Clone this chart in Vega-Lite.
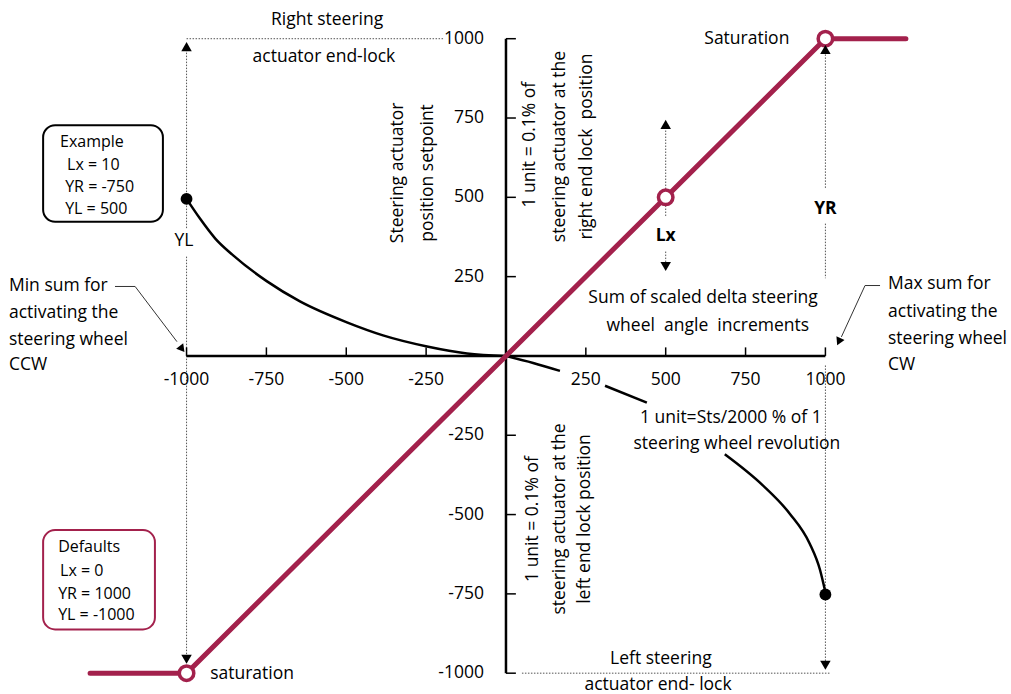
{
  "$schema": "https://vega.github.io/schema/vega-lite/v6.json",
  "width": 1011,
  "height": 694,
  "padding": 0,
  "autosize": {"type": "fit", "contains": "padding"},
  "background": "white",
  "view": {"stroke": null},
  "config": {"text": {"font": "Open Sans", "fontSize": 17.5, "color": "black", "baseline": "middle"}},
  "datasets": {
    "red": [{"x": -1302, "y": -1000}, {"x": -1000, "y": -1000}, {"x": 1000, "y": 1000}, {"x": 1252, "y": 1000}],
    "curve": [
      {"x": -1000, "y": 495, "seg": "L"}, {"x": -958, "y": 433, "seg": "L"}, {"x": -910, "y": 370, "seg": "L"}, {"x": -854, "y": 317, "seg": "L"},
      {"x": -748, "y": 235, "seg": "L"}, {"x": -645, "y": 172, "seg": "L"}, {"x": -498, "y": 106, "seg": "L"}, {"x": -385, "y": 65, "seg": "L"},
      {"x": -247, "y": 30, "seg": "L"}, {"x": -122, "y": 8, "seg": "L"}, {"x": 0, "y": 0, "seg": "L"},
      {"x": 0, "y": 0, "seg": "R1"}, {"x": 85, "y": -22, "seg": "R1"}, {"x": 169, "y": -47, "seg": "R1"},
      {"x": 310, "y": -94, "seg": "R2"}, {"x": 441, "y": -147, "seg": "R2"},
      {"x": 685, "y": -310, "seg": "R3"}, {"x": 804, "y": -408, "seg": "R3"}, {"x": 889, "y": -498, "seg": "R3"}, {"x": 951, "y": -592, "seg": "R3"}, {"x": 983, "y": -674, "seg": "R3"}, {"x": 1000, "y": -745, "seg": "R3"}
    ],
    "dotted": [
      {"x": -1000, "y": 975, "x2": -1000, "y2": 400}, {"x": -1000, "y": 313, "x2": -1000, "y2": -960},
      {"x": -1000, "y": 1000, "x2": -197, "y2": 1000},
      {"x": 500, "y": 720, "x2": 500, "y2": 439}, {"x": 500, "y": 329, "x2": 500, "y2": 290},
      {"x": 1000, "y": 960, "x2": 1000, "y2": 527}, {"x": 1000, "y": 417, "x2": 1000, "y2": 245}, {"x": 1000, "y": -30, "x2": 1000, "y2": -975},
      {"x": 50, "y": -1000, "x2": 1015, "y2": -1000}
    ],
    "leaders": [
      {"x": -1224, "y": 219, "x2": -1161, "y2": 219}, {"x": -1161, "y": 219, "x2": -1030, "y2": 45},
      {"x": 1171, "y": 222, "x2": 1124, "y2": 222}, {"x": 1124, "y": 222, "x2": 1050, "y2": 60}
    ],
    "axes": [{"x": -1000, "y": 0, "x2": 1000, "y2": 0}, {"x": 0, "y": -1000, "x2": 0, "y2": 1000}],
    "xticks": [{"x": -1000, "y": 0}, {"x": -750, "y": 0}, {"x": -500, "y": 0}, {"x": -250, "y": 0}, {"x": 250, "y": 0}, {"x": 500, "y": 0}, {"x": 750, "y": 0}, {"x": 1000, "y": 0}],
    "yticks": [{"x": 0, "y": -1000}, {"x": 0, "y": -750}, {"x": 0, "y": -500}, {"x": 0, "y": -250}, {"x": 0, "y": 250}, {"x": 0, "y": 500}, {"x": 0, "y": 750}, {"x": 0, "y": 1000}],
    "xlabels": [{"x": -1000, "y": -75, "t": "-1000"}, {"x": -750, "y": -75, "t": "-750"}, {"x": -500, "y": -75, "t": "-500"}, {"x": -250, "y": -75, "t": "-250"}, {"x": 250, "y": -75, "t": "250"}, {"x": 500, "y": -75, "t": "500"}, {"x": 750, "y": -75, "t": "750"}, {"x": 1000, "y": -75, "t": "1000"}],
    "ylabels": [{"x": -69, "y": -1000, "t": "-1000"}, {"x": -69, "y": -750, "t": "-750"}, {"x": -69, "y": -500, "t": "-500"}, {"x": -69, "y": -250, "t": "-250"}, {"x": -69, "y": 250, "t": "250"}, {"x": -69, "y": 500, "t": "500"}, {"x": -69, "y": 750, "t": "750"}, {"x": -69, "y": 1000, "t": "1000"}],
    "ctext": [
      {"x": -560, "y": 1058, "t": "Right steering"}, {"x": -570, "y": 942, "t": "actuator end-lock"},
      {"x": 754, "y": 998, "t": "Saturation"},
      {"x": 617, "y": 183, "t": "Sum of scaled delta steering"}, {"x": 632, "y": 95, "t": "wheel\u00a0 angle\u00a0 increments"},
      {"x": 704, "y": -196, "t": "1 unit=Sts/2000 % of 1"}, {"x": 723, "y": -278, "t": "steering wheel revolution"},
      {"x": -1008, "y": 362, "t": "YL"},
      {"x": 485, "y": -955, "t": "Left steering"}, {"x": 476, "y": -1036, "t": "actuator end- lock"}
    ],
    "ltext": [
      {"x": -926, "y": -1002, "t": "saturation"},
      {"x": -1556, "y": 220, "t": "Min sum for"}, {"x": -1556, "y": 136, "t": "activating the"}, {"x": -1556, "y": 51, "t": "steering wheel"}, {"x": -1556, "y": -30, "t": "CCW"},
      {"x": 1196, "y": 227, "t": "Max sum for"}, {"x": 1196, "y": 139, "t": "activating the"}, {"x": 1196, "y": 54, "t": "steering wheel"}, {"x": 1196, "y": -27, "t": "CW"}
    ],
    "boxtext": [
      {"x": -1396, "y": 674, "t": "Example"}, {"x": -1374, "y": 601, "t": "Lx = 10"}, {"x": -1380, "y": 533, "t": "YR = -750"}, {"x": -1380, "y": 462, "t": "YL = 500"},
      {"x": -1402, "y": -602, "t": "Defaults"}, {"x": -1396, "y": -677, "t": "Lx = 0"}, {"x": -1402, "y": -750, "t": "YR = 1000"}, {"x": -1402, "y": -817, "t": "YL = -1000"}
    ],
    "btext": [{"x": 500, "y": 377, "t": "Lx"}, {"x": 1000, "y": 462, "t": "YR"}],
    "rtext": [
      {"x": -338, "y": 577, "t": "Steering actuator"}, {"x": -244, "y": 577, "t": "position setpoint"},
      {"x": 75, "y": 666, "t": "1 unit = 0.1% of"}, {"x": 169, "y": 660, "t": "steering actuator at the"}, {"x": 254, "y": 660, "t": "right end lock\u00a0 position"},
      {"x": 85, "y": -514, "t": "1 unit = 0.1% of"}, {"x": 169, "y": -514, "t": "steering actuator at the"}, {"x": 247, "y": -514, "t": "left end lock position"}
    ],
    "boxEx": [{"x": -1449, "x2": -1074, "y": 727, "y2": 423}],
    "boxDef": [{"x": -1449, "x2": -1099, "y": -549, "y2": -862}],
    "hollow": [{"x": -1000, "y": -1000}, {"x": 500, "y": 500}, {"x": 1000, "y": 1000}],
    "dots": [{"x": -1000, "y": 495}, {"x": 1000, "y": -752}],
    "triUp": [{"x": -1000, "y": 975}, {"x": 500, "y": 730}, {"x": 1000, "y": 966}],
    "triDown": [{"x": -1000, "y": -956}, {"x": 500, "y": 282}, {"x": 1000, "y": -975}],
    "triL": [{"x": -1014, "y": 22}],
    "triR": [{"x": 1042, "y": 45}]
  },
  "encoding": {
    "x": {"field": "x", "type": "quantitative", "scale": {"domain": [-1584, 1581], "nice": false, "zero": false}, "axis": null},
    "y": {"field": "y", "type": "quantitative", "scale": {"domain": [-1053, 1122], "nice": false, "zero": false}, "axis": null}
  },
  "layer": [
    {"data": {"name": "boxEx"}, "mark": {"type": "rect", "fill": "white", "stroke": "black", "strokeWidth": 2, "cornerRadius": 12}, "encoding": {"x2": {"field": "x2"}, "y2": {"field": "y2"}}},
    {"data": {"name": "boxDef"}, "mark": {"type": "rect", "fill": "white", "stroke": "#a3214c", "strokeWidth": 2, "cornerRadius": 12}, "encoding": {"x2": {"field": "x2"}, "y2": {"field": "y2"}}},
    {"data": {"name": "dotted"}, "mark": {"type": "rule", "color": "#555555", "strokeWidth": 1, "strokeDash": [1.5, 1.5]}, "encoding": {"x2": {"field": "x2"}, "y2": {"field": "y2"}}},
    {"data": {"name": "leaders"}, "mark": {"type": "rule", "color": "#333333", "strokeWidth": 1}, "encoding": {"x2": {"field": "x2"}, "y2": {"field": "y2"}}},
    {"data": {"name": "axes"}, "mark": {"type": "rule", "color": "black", "strokeWidth": 2.5}, "encoding": {"x2": {"field": "x2"}, "y2": {"field": "y2"}}},
    {"data": {"name": "xticks"}, "mark": {"type": "rule", "color": "black", "strokeWidth": 1.5}, "encoding": {"y2": {"datum": 27}}},
    {"data": {"name": "yticks"}, "mark": {"type": "rule", "color": "black", "strokeWidth": 1.5}, "encoding": {"x2": {"datum": 31}}},
    {"data": {"name": "curve"}, "mark": {"type": "line", "color": "black", "strokeWidth": 2.5, "interpolate": "monotone"}, "encoding": {"detail": {"field": "seg"}}},
    {"data": {"name": "red"}, "mark": {"type": "line", "color": "#a3214c", "strokeWidth": 5, "strokeCap": "round"}, "encoding": {}},
    {"data": {"name": "hollow"}, "mark": {"type": "point", "shape": "circle", "filled": true, "fill": "white", "stroke": "#a3214c", "strokeWidth": 3.5, "size": 210, "opacity": 1}, "encoding": {}},
    {"data": {"name": "dots"}, "mark": {"type": "point", "shape": "circle", "filled": true, "color": "black", "size": 140, "opacity": 1}, "encoding": {}},
    {"data": {"name": "triUp"}, "mark": {"type": "point", "shape": "triangle-up", "filled": true, "color": "black", "size": 110, "opacity": 1}, "encoding": {}},
    {"data": {"name": "triDown"}, "mark": {"type": "point", "shape": "triangle-down", "filled": true, "color": "black", "size": 110, "opacity": 1}, "encoding": {}},
    {"data": {"name": "triL"}, "mark": {"type": "point", "shape": "triangle-up", "angle": 142, "filled": true, "color": "black", "size": 80, "opacity": 1}, "encoding": {}},
    {"data": {"name": "triR"}, "mark": {"type": "point", "shape": "triangle-up", "angle": 205, "filled": true, "color": "black", "size": 80, "opacity": 1}, "encoding": {}},
    {"data": {"name": "xlabels"}, "mark": {"type": "text", "align": "center"}, "encoding": {"text": {"field": "t"}}},
    {"data": {"name": "ylabels"}, "mark": {"type": "text", "align": "right"}, "encoding": {"text": {"field": "t"}}},
    {"data": {"name": "ctext"}, "mark": {"type": "text", "align": "center"}, "encoding": {"text": {"field": "t"}}},
    {"data": {"name": "ltext"}, "mark": {"type": "text", "align": "left"}, "encoding": {"text": {"field": "t"}}},
    {"data": {"name": "boxtext"}, "mark": {"type": "text", "align": "left", "fontSize": 16}, "encoding": {"text": {"field": "t"}}},
    {"data": {"name": "btext"}, "mark": {"type": "text", "align": "center", "fontWeight": "bold"}, "encoding": {"text": {"field": "t"}}},
    {"data": {"name": "rtext"}, "mark": {"type": "text", "align": "center", "angle": 270}, "encoding": {"text": {"field": "t"}}}
  ]
}
